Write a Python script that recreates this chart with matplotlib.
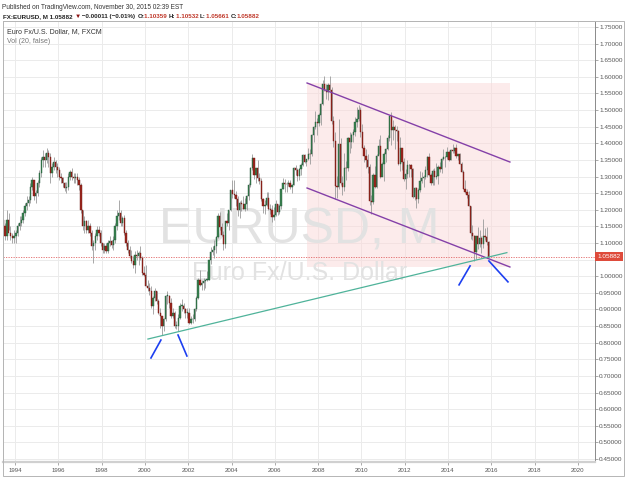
import matplotlib
matplotlib.use("Agg")
import matplotlib.pyplot as plt
import numpy as np
from matplotlib.patches import Rectangle
from matplotlib.transforms import blended_transform_factory

plt.rcParams['font.family'] = ['Liberation Sans', 'DejaVu Sans']

# monthly EURUSD candles, first one is June 1993
start_year, start_month = 1993, 6
first_open = 1.17

closes = [
    1.15, 1.12, 1.17, 1.13, 1.12, 1.115, 1.12,                                 # 1993
    1.13, 1.15, 1.16, 1.17, 1.19, 1.21, 1.22, 1.23, 1.27, 1.29, 1.24, 1.25,     # 1994
    1.28, 1.31, 1.35, 1.36, 1.35, 1.37, 1.36, 1.31, 1.33, 1.345, 1.33, 1.32,    # 1995
    1.30, 1.295, 1.28, 1.265, 1.27, 1.30, 1.315, 1.30, 1.295, 1.30, 1.29, 1.275,  # 1996
    1.20, 1.15, 1.165, 1.14, 1.15, 1.13, 1.09, 1.10, 1.12, 1.14, 1.13, 1.10,    # 1997
    1.08, 1.09, 1.075, 1.10, 1.105, 1.095, 1.11, 1.15, 1.18, 1.19, 1.16, 1.175,  # 1998
    1.13, 1.10, 1.08, 1.06, 1.045, 1.035, 1.065, 1.06, 1.07, 1.055, 1.01, 1.005,  # 1999
    0.97, 0.965, 0.955, 0.91, 0.935, 0.955, 0.925, 0.89, 0.88, 0.85, 0.87, 0.94,  # 2000
    0.94, 0.92, 0.88, 0.89, 0.85, 0.85, 0.875, 0.91, 0.91, 0.90, 0.89, 0.89,    # 2001
    0.86, 0.87, 0.872, 0.90, 0.935, 0.99, 0.975, 0.98, 0.985, 0.99, 0.99, 1.049,  # 2002
    1.073, 1.078, 1.09, 1.118, 1.18, 1.149, 1.124, 1.097, 1.165, 1.159, 1.199, 1.258,  # 2003
    1.247, 1.245, 1.232, 1.198, 1.22, 1.217, 1.203, 1.218, 1.242, 1.276, 1.326, 1.356,  # 2004
    1.304, 1.325, 1.296, 1.288, 1.231, 1.21, 1.213, 1.234, 1.202, 1.199, 1.179, 1.184,  # 2005
    1.216, 1.192, 1.212, 1.262, 1.281, 1.279, 1.277, 1.281, 1.268, 1.276, 1.325, 1.32,  # 2006
    1.302, 1.323, 1.336, 1.365, 1.345, 1.354, 1.369, 1.367, 1.426, 1.448, 1.463, 1.46,  # 2007
    1.484, 1.518, 1.579, 1.561, 1.554, 1.575, 1.561, 1.467, 1.408, 1.272, 1.27, 1.397,  # 2008
    1.28, 1.268, 1.326, 1.325, 1.415, 1.403, 1.426, 1.435, 1.464, 1.473, 1.50, 1.433,  # 2009
    1.386, 1.363, 1.351, 1.33, 1.227, 1.224, 1.306, 1.269, 1.362, 1.393, 1.30, 1.337,  # 2010
    1.369, 1.383, 1.416, 1.481, 1.439, 1.45, 1.439, 1.437, 1.339, 1.386, 1.345, 1.294,  # 2011
    1.308, 1.334, 1.334, 1.323, 1.237, 1.266, 1.231, 1.258, 1.286, 1.296, 1.299, 1.319,  # 2012
    1.358, 1.306, 1.282, 1.317, 1.300, 1.301, 1.33, 1.322, 1.352, 1.358, 1.359, 1.375,  # 2013
    1.349, 1.381, 1.377, 1.387, 1.363, 1.369, 1.339, 1.313, 1.263, 1.252, 1.245, 1.21,  # 2014
    1.129, 1.12, 1.073, 1.122, 1.098, 1.115, 1.098, 1.121, 1.118, 1.1036, 1.05882,     # 2015
]

highs = [
    1.18, 1.16, 1.20, 1.19, 1.15, 1.13, 1.14,
    1.14, 1.16, 1.18, 1.18, 1.20, 1.22, 1.24, 1.24, 1.28, 1.30, 1.29, 1.26,
    1.29, 1.32, 1.36, 1.38, 1.37, 1.385, 1.38, 1.37, 1.34, 1.36, 1.35, 1.34,
    1.33, 1.31, 1.30, 1.285, 1.285, 1.31, 1.32, 1.325, 1.31, 1.31, 1.31, 1.30,
    1.28, 1.20, 1.18, 1.17, 1.17, 1.16, 1.14, 1.11, 1.13, 1.15, 1.15, 1.14,
    1.10, 1.10, 1.10, 1.11, 1.12, 1.11, 1.12, 1.16, 1.20, 1.23, 1.20, 1.18,
    1.185, 1.14, 1.11, 1.09, 1.08, 1.06, 1.075, 1.08, 1.075, 1.09, 1.06, 1.03,
    1.035, 0.99, 0.98, 0.97, 0.94, 0.965, 0.955, 0.93, 0.905, 0.88, 0.875, 0.945,
    0.955, 0.945, 0.935, 0.905, 0.895, 0.865, 0.885, 0.92, 0.93, 0.92, 0.905, 0.905,
    0.905, 0.88, 0.885, 0.905, 0.94, 0.995, 1.02, 0.99, 0.995, 0.99, 1.015, 1.05,
    1.087, 1.09, 1.108, 1.12, 1.19, 1.193, 1.16, 1.135, 1.166, 1.19, 1.20, 1.26,
    1.29, 1.29, 1.255, 1.24, 1.225, 1.229, 1.24, 1.235, 1.245, 1.281, 1.33, 1.367,
    1.356, 1.327, 1.349, 1.31, 1.297, 1.236, 1.228, 1.254, 1.252, 1.216, 1.214, 1.209,
    1.228, 1.218, 1.217, 1.263, 1.297, 1.292, 1.285, 1.29, 1.289, 1.279, 1.33, 1.336,
    1.327, 1.327, 1.34, 1.368, 1.368, 1.353, 1.385, 1.383, 1.427, 1.452, 1.498, 1.475,
    1.49, 1.522, 1.59, 1.602, 1.578, 1.582, 1.604, 1.569, 1.481, 1.433, 1.301, 1.473,
    1.416, 1.302, 1.372, 1.348, 1.418, 1.434, 1.431, 1.443, 1.478, 1.509, 1.514, 1.51,
    1.458, 1.395, 1.382, 1.369, 1.339, 1.243, 1.311, 1.333, 1.369, 1.412, 1.424, 1.343,
    1.374, 1.386, 1.426, 1.486, 1.494, 1.469, 1.454, 1.453, 1.441, 1.419, 1.382, 1.355,
    1.323, 1.349, 1.339, 1.338, 1.325, 1.269, 1.27, 1.264, 1.317, 1.315, 1.304, 1.331,
    1.361, 1.371, 1.312, 1.324, 1.326, 1.342, 1.335, 1.345, 1.355, 1.383, 1.361, 1.389,
    1.377, 1.384, 1.397, 1.388, 1.399, 1.369, 1.37, 1.344, 1.319, 1.289, 1.261, 1.257,
    1.212, 1.153, 1.125, 1.122, 1.147, 1.139, 1.122, 1.171, 1.146, 1.149, 1.10532,
]

lows = [
    1.14, 1.11, 1.11, 1.14, 1.11, 1.10, 1.10,
    1.10, 1.12, 1.14, 1.15, 1.16, 1.18, 1.20, 1.21, 1.22, 1.26, 1.23, 1.22,
    1.24, 1.27, 1.30, 1.33, 1.33, 1.34, 1.33, 1.28, 1.30, 1.32, 1.31, 1.30,
    1.29, 1.28, 1.27, 1.255, 1.25, 1.26, 1.29, 1.29, 1.28, 1.28, 1.275, 1.26,
    1.19, 1.14, 1.13, 1.13, 1.13, 1.12, 1.08, 1.04, 1.08, 1.11, 1.12, 1.09,
    1.07, 1.07, 1.07, 1.07, 1.09, 1.085, 1.08, 1.10, 1.14, 1.17, 1.15, 1.15,
    1.125, 1.09, 1.07, 1.055, 1.04, 1.025, 1.01, 1.05, 1.035, 1.05, 1.005, 1.00,
    0.97, 0.955, 0.945, 0.905, 0.885, 0.925, 0.915, 0.885, 0.845, 0.823, 0.835, 0.865,
    0.915, 0.905, 0.875, 0.875, 0.845, 0.84, 0.835, 0.87, 0.895, 0.89, 0.875, 0.875,
    0.857, 0.855, 0.86, 0.865, 0.895, 0.93, 0.97, 0.96, 0.96, 0.965, 0.985, 0.99,
    1.036, 1.065, 1.055, 1.07, 1.115, 1.14, 1.12, 1.08, 1.086, 1.15, 1.14, 1.195,
    1.235, 1.235, 1.21, 1.18, 1.176, 1.197, 1.202, 1.195, 1.20, 1.228, 1.268, 1.32,
    1.294, 1.281, 1.288, 1.279, 1.226, 1.19, 1.187, 1.21, 1.199, 1.187, 1.164, 1.168,
    1.18, 1.185, 1.186, 1.203, 1.262, 1.252, 1.252, 1.271, 1.263, 1.251, 1.276, 1.306,
    1.286, 1.291, 1.306, 1.331, 1.341, 1.331, 1.349, 1.338, 1.363, 1.405, 1.442, 1.425,
    1.452, 1.455, 1.515, 1.557, 1.534, 1.531, 1.556, 1.459, 1.39, 1.233, 1.235, 1.263,
    1.275, 1.244, 1.255, 1.289, 1.318, 1.371, 1.385, 1.403, 1.423, 1.45, 1.466, 1.42,
    1.385, 1.344, 1.327, 1.312, 1.214, 1.188, 1.217, 1.266, 1.264, 1.368, 1.297, 1.301,
    1.287, 1.343, 1.381, 1.406, 1.396, 1.41, 1.384, 1.406, 1.336, 1.317, 1.32, 1.286,
    1.262, 1.296, 1.298, 1.30, 1.235, 1.229, 1.204, 1.221, 1.252, 1.281, 1.268, 1.292,
    1.30, 1.301, 1.275, 1.274, 1.275, 1.292, 1.277, 1.313, 1.31, 1.351, 1.33, 1.353,
    1.348, 1.349, 1.371, 1.371, 1.357, 1.351, 1.338, 1.315, 1.262, 1.25, 1.236, 1.21,
    1.112, 1.11, 1.046, 1.052, 1.082, 1.088, 1.071, 1.086, 1.109, 1.094, 1.05661,
]

last_price = 1.05882
price_ticks = np.arange(0.45, 1.7501, 0.05)
year_ticks = list(range(1994, 2021, 2))

# drawings on the chart: (years, prices)
trend_line = ([2000.14, 2016.72], [0.811, 1.071])
channel_top = ([2007.49, 2016.86], [1.5815, 1.3437])
channel_bottom = ([2007.49, 2016.86], [1.2655, 1.0278])
channel_box = (2007.49, 2016.86, 1.0278, 1.5815)
blue_marks = [
    ([2000.28, 2000.74], [0.754, 0.808]),
    ([2001.53, 2001.94], [0.823, 0.760]),
    ([2014.51, 2015.02], [0.974, 1.031]),
    ([2015.89, 2016.77], [1.046, 0.983]),
]

W, H = 625, 478
fig = plt.figure(figsize=(W / 100, H / 100), dpi=100)
fig.patch.set_facecolor("white")

# plot area in pixels: x 3..595, y 21..462
ax = fig.add_axes([3 / W, (H - 462) / H, 592 / W, 441 / H])
ax.set_xlim(1994 + (3 - 15) / 21.65, 1994 + (595 - 15) / 21.65)
ax.set_ylim(1.75 - (462 - 27) / 332.3, 1.75 - (21 - 27) / 332.3)

# candles
n = len(closes)
t = np.array([start_year + (start_month - 1 + k + 0.5) / 12 for k in range(n)])
c = np.array(closes)
o = np.array([first_open] + closes[:-1])
hi = np.array(highs)
lo = np.array(lows)
up = c >= o
body = np.maximum(np.abs(c - o), 0.002)
bottom = np.minimum(o, c)

ax.vlines(t, lo, hi, color="#9a9a9a", lw=0.6, zorder=3)
ax.bar(t[up], body[up], bottom=bottom[up], width=0.06, color="#3a8350",
       edgecolor="#24583a", lw=0.3, zorder=4)
ax.bar(t[~up], body[~up], bottom=bottom[~up], width=0.06, color="#9c261e",
       edgecolor="#6e1a14", lw=0.3, zorder=4)

# channel shading and lines
x0, x1, y0, y1 = channel_box
ax.add_patch(Rectangle((x0, y0), x1 - x0, y1 - y0, facecolor="#fbd9d9",
                       edgecolor="none", alpha=0.5, zorder=1))
ax.plot(*channel_top, color="#8440a8", lw=1.0, zorder=5)
ax.plot(*channel_bottom, color="#8440a8", lw=1.0, zorder=5)
ax.plot(*trend_line, color="#4fb39a", lw=0.9, zorder=5)
for xs, ys in blue_marks:
    ax.plot(xs, ys, color="#1d3ff0", lw=1.2, zorder=5)

# last price line and tag
ax.axhline(last_price, color="#e06666", lw=0.6, ls=(0, (1.5, 1.5)), zorder=2)
tr = blended_transform_factory(ax.transAxes, ax.transData)
ax.text(1.004, last_price, f"{last_price:.5f}", transform=tr, ha="left", va="center",
        fontsize=4.6, color="white",
        bbox=dict(boxstyle="square,pad=0.35", fc="#de4b3b", ec="none"), zorder=6, clip_on=False)

# watermark
ax.text(299.5 / W, (H - 243) / H, "EURUSD, M", transform=fig.transFigure, ha="center",
        va="baseline", fontsize=36, color="#e2e2e2", zorder=1.5)
ax.text(300 / W, (H - 280) / H, "Euro Fx/U.S. Dollar", transform=fig.transFigure,
        ha="center", va="baseline", fontsize=18, color="#e2e2e2", zorder=1.5)

# axes styling; the 1.05 label sits under the price tag, so it is left blank
ax.set_yticks(price_ticks)
ax.set_yticklabels(["" if abs(v - 1.05) < 1e-6 else f"{v:.5f}" for v in price_ticks])
ax.yaxis.tick_right()
ax.set_xticks(year_ticks)
ax.set_xticklabels([str(y) for y in year_ticks])
ax.grid(True, color="#ebebeb", lw=0.7, zorder=0)
ax.set_axisbelow(True)
ax.tick_params(axis="y", direction="out", length=2, width=0.5, color="#888888",
               labelsize=4.6, labelcolor="#555555", pad=1)
ax.tick_params(axis="x", direction="out", length=2, width=0.5, color="#888888",
               labelsize=4.4, labelcolor="#555555", pad=2)
for side in ["left", "top"]:
    ax.spines[side].set_color("#b5b5b5")
    ax.spines[side].set_linewidth(0.7)
ax.spines["right"].set_color("#8a8a8a")
ax.spines["right"].set_linewidth(0.7)
ax.spines["bottom"].set_color("#d0d0d0")
ax.spines["bottom"].set_linewidth(1.6)

# outer frame
fig.add_artist(Rectangle((3 / W, 2 / H), 621 / W, (476 - 21) / H, transform=fig.transFigure,
                         fill=False, edgecolor="#b5b5b5", lw=0.7))

# legend lines inside the chart
fig.text(7 / W, (H - 33) / H, "Euro Fx/U.S. Dollar, M, FXCM", fontsize=5, color="#333333")
fig.text(7 / W, (H - 43) / H, "Vol (20, false)", fontsize=5, color="#777777")

# header
fig.text(2 / W, (H - 9) / H, "Published on TradingView.com, November 30, 2015 02:39 EST",
         fontsize=4.7, color="#333333")

runs = [
    ("FX:EURUSD, M 1.05882 ", "#222222"),
    ("\u25bc", "#8b1010"),
    (" \u22120.00011 (\u22120.01%) ", "#222222"),
    ("O:", "#222222"), ("1.10359 ", "#c0392b"),
    ("H:", "#222222"), ("1.10532 ", "#c0392b"),
    ("L:", "#222222"), ("1.05661 ", "#c0392b"),
    ("C:", "#222222"), ("1.05882", "#c0392b"),
]
fig.canvas.draw()
renderer = fig.canvas.get_renderer()
xpos = 3
for s, col in runs:
    txt = fig.text(xpos / W, (H - 18) / H, s, fontsize=4.5, fontweight="bold", color=col)
    bb = txt.get_window_extent(renderer=renderer)
    xpos += bb.width

fig.savefig("out.png", dpi=100)
